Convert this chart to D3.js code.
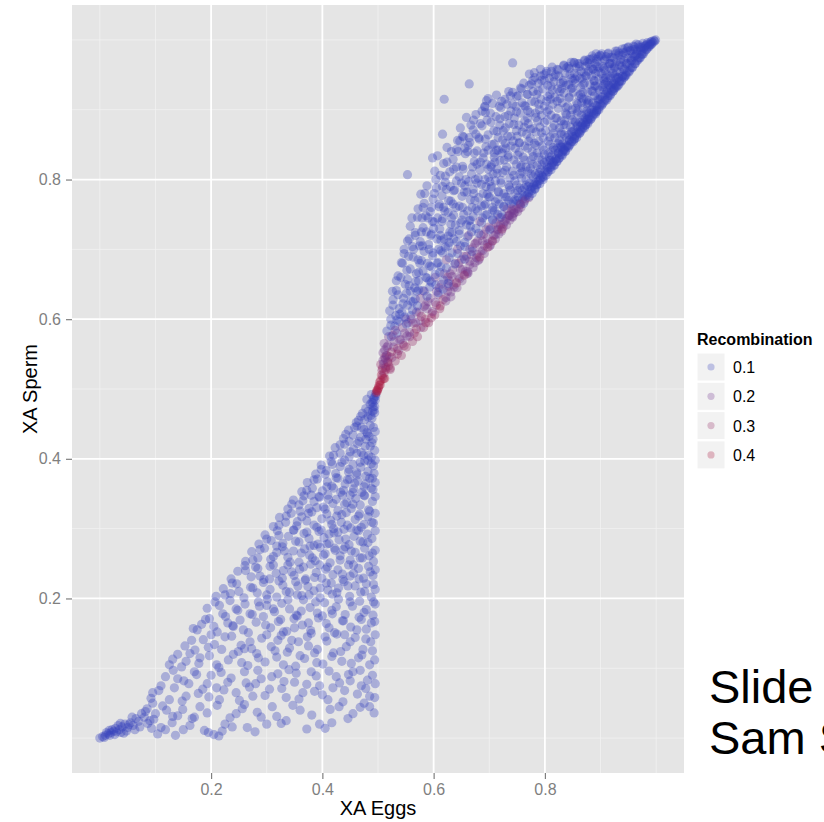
<!DOCTYPE html>
<html>
<head>
<meta charset="utf-8">
<script src="https://cdn.jsdelivr.net/npm/d3@7"></script>
<style>
  body { margin: 0; background: #fff; }
  svg { display: block; font-family: "Liberation Sans", Arial, sans-serif; }
</style>
</head>
<body>
<div id="chart"></div>
<script>
// ── Data ──
// lower wedge (x < 0.5): [xa eggs, xa sperm]; all of it sits at the low recombination end
const lowerRecombination = 0.1;
const lowerWedge = [
  [0.000,0.000],[0.005,0.002],[0.010,0.004],[0.008,0.001],[0.015,0.006],[0.020,0.008],[0.018,0.004],[0.025,0.010],
  [0.030,0.009],[0.028,0.014],[0.035,0.012],[0.040,0.016],[0.038,0.008],[0.045,0.020],[0.050,0.015],[0.055,0.022],
  [0.060,0.018],[0.065,0.028],[0.070,0.024],[0.075,0.035],[0.080,0.030],[0.012,0.008],[0.022,0.012],[0.033,0.018],
  [0.048,0.010],[0.058,0.030],[0.085,0.042],[0.090,0.025],[0.095,0.050],[0.100,0.035],[0.110,0.015],[0.130,0.022],
  [0.150,0.012],[0.170,0.030],[0.195,0.008],[0.205,0.005],[0.225,0.020],[0.245,0.035],[0.265,0.015],[0.290,0.030],
  [0.310,0.045],[0.335,0.025],[0.360,0.040],[0.395,0.020],[0.405,0.014],[0.430,0.045],[0.455,0.035],[0.475,0.050],
  [0.485,0.045],[0.120,0.040],[0.180,0.045],[0.260,0.048],[0.300,0.020],[0.220,0.010],[0.140,0.032],
  [0.095,0.065],[0.110,0.075],[0.125,0.055],[0.140,0.085],[0.155,0.060],[0.170,0.095],[0.185,0.070],[0.200,0.090],
  [0.215,0.055],[0.230,0.080],[0.245,0.065],[0.260,0.095],[0.275,0.060],[0.290,0.085],[0.305,0.070],[0.320,0.092],
  [0.335,0.058],[0.350,0.080],[0.365,0.065],[0.380,0.095],[0.395,0.075],[0.410,0.055],[0.425,0.088],[0.440,0.068],
  [0.455,0.095],[0.470,0.075],[0.485,0.060],[0.490,0.090],[0.160,0.078],[0.210,0.072],[0.280,0.078],[0.340,0.098],
  [0.400,0.062],[0.450,0.082],
  [0.125,0.105],[0.140,0.120],[0.155,0.110],[0.165,0.140],[0.180,0.115],[0.195,0.130],[0.210,0.105],[0.225,0.145],
  [0.240,0.120],[0.255,0.108],[0.270,0.138],[0.285,0.115],[0.300,0.148],[0.315,0.125],[0.330,0.105],[0.345,0.140],
  [0.360,0.118],[0.375,0.132],[0.390,0.108],[0.405,0.145],[0.420,0.122],[0.435,0.110],[0.450,0.138],[0.465,0.115],
  [0.478,0.142],[0.490,0.125],[0.200,0.148],[0.260,0.128],[0.320,0.140],[0.380,0.150],[0.440,0.148],[0.485,0.105],
  [0.175,0.155],[0.190,0.170],[0.205,0.160],[0.215,0.190],[0.230,0.165],[0.245,0.185],[0.258,0.155],[0.270,0.178],
  [0.285,0.195],[0.298,0.162],[0.312,0.185],[0.325,0.170],[0.338,0.198],[0.350,0.158],[0.362,0.182],[0.375,0.165],
  [0.388,0.195],[0.400,0.175],[0.412,0.158],[0.425,0.188],[0.438,0.168],[0.450,0.195],[0.462,0.155],[0.475,0.180],
  [0.488,0.165],[0.492,0.195],[0.240,0.160],[0.300,0.190],[0.355,0.175],[0.418,0.178],[0.470,0.170],[0.330,0.152],
  [0.225,0.205],[0.238,0.222],[0.250,0.210],[0.262,0.240],[0.275,0.215],[0.288,0.232],[0.300,0.205],[0.312,0.248],
  [0.322,0.225],[0.335,0.210],[0.345,0.238],[0.356,0.218],[0.366,0.245],[0.376,0.205],[0.386,0.230],[0.396,0.215],
  [0.406,0.242],[0.416,0.222],[0.426,0.208],[0.436,0.235],[0.446,0.218],[0.456,0.248],[0.466,0.228],[0.476,0.210],
  [0.486,0.238],[0.492,0.220],[0.280,0.245],[0.330,0.240],[0.370,0.228],[0.410,0.212],[0.450,0.232],[0.395,0.248],
  [0.355,0.205],[0.305,0.228],
  [0.275,0.255],[0.288,0.270],[0.300,0.285],[0.312,0.260],[0.322,0.290],[0.332,0.268],[0.342,0.252],[0.352,0.282],
  [0.362,0.265],[0.372,0.295],[0.382,0.258],[0.392,0.278],[0.402,0.262],[0.412,0.292],[0.422,0.272],[0.432,0.255],
  [0.442,0.285],[0.452,0.268],[0.462,0.298],[0.472,0.258],[0.482,0.280],[0.490,0.265],[0.318,0.275],[0.348,0.298],
  [0.378,0.275],[0.408,0.278],[0.438,0.270],[0.468,0.282],[0.398,0.298],[0.428,0.295],
  [0.322,0.305],[0.335,0.318],[0.345,0.335],[0.355,0.310],[0.365,0.340],[0.375,0.322],[0.385,0.305],[0.395,0.345],
  [0.405,0.328],[0.415,0.312],[0.425,0.342],[0.435,0.320],[0.445,0.305],[0.455,0.335],[0.465,0.318],[0.475,0.348],
  [0.485,0.325],[0.492,0.308],[0.360,0.325],[0.390,0.330],[0.420,0.300],[0.450,0.348],[0.470,0.302],[0.440,0.335],
  [0.410,0.348],[0.380,0.348],
  [0.372,0.355],[0.385,0.370],[0.398,0.385],[0.408,0.360],[0.418,0.392],[0.428,0.372],[0.438,0.355],[0.448,0.385],
  [0.458,0.365],[0.468,0.395],[0.478,0.375],[0.488,0.358],[0.492,0.390],[0.405,0.378],[0.435,0.395],[0.455,0.352],
  [0.475,0.360],[0.445,0.370],[0.420,0.358],[0.482,0.398],[0.462,0.380],[0.490,0.372],
  [0.420,0.405],[0.432,0.420],[0.442,0.435],[0.450,0.410],[0.458,0.445],[0.466,0.425],[0.474,0.405],[0.480,0.438],
  [0.486,0.418],[0.492,0.445],[0.462,0.408],[0.478,0.428],[0.448,0.425],[0.470,0.445],[0.488,0.402],[0.484,0.432],
  // second pass, scattered
  [0.104,0.006],[0.118,0.012],[0.136,0.004],[0.162,0.018],[0.188,0.011],[0.214,0.003],[0.238,0.016],[0.279,0.009],
  [0.326,0.021],[0.372,0.013],[0.417,0.022],[0.063,0.012],[0.072,0.016],[0.043,0.007],[0.052,0.019],[0.086,0.021],
  [0.093,0.014],[0.017,0.011],[0.027,0.005],[0.037,0.021],
  [0.082,0.038],[0.097,0.027],[0.113,0.046],[0.131,0.031],[0.149,0.041],[0.166,0.028],[0.193,0.036],[0.211,0.047],
  [0.234,0.029],[0.256,0.042],[0.283,0.037],[0.318,0.031],[0.347,0.047],[0.381,0.033],[0.414,0.041],[0.446,0.028],
  [0.468,0.044],[0.493,0.036],
  [0.092,0.057],[0.106,0.068],[0.134,0.072],[0.148,0.053],[0.177,0.064],[0.196,0.059],[0.223,0.069],[0.251,0.054],
  [0.269,0.073],[0.297,0.061],[0.327,0.071],[0.358,0.056],[0.386,0.067],[0.419,0.072],[0.437,0.052],[0.463,0.063],
  [0.478,0.071],[0.494,0.058],
  [0.118,0.088],[0.132,0.097],[0.151,0.082],[0.174,0.091],[0.193,0.078],[0.218,0.094],[0.236,0.086],[0.263,0.079],
  [0.284,0.097],[0.309,0.088],[0.331,0.081],[0.353,0.093],[0.372,0.077],[0.389,0.089],[0.412,0.096],[0.431,0.079],
  [0.447,0.091],[0.468,0.097],[0.481,0.083],[0.495,0.078],
  [0.131,0.113],[0.147,0.102],[0.162,0.121],[0.178,0.107],[0.197,0.118],[0.214,0.101],[0.231,0.112],[0.249,0.124],
  [0.266,0.104],[0.282,0.121],[0.297,0.109],[0.318,0.116],[0.337,0.123],[0.352,0.103],[0.368,0.114],[0.386,0.122],
  [0.401,0.106],[0.417,0.117],[0.433,0.124],[0.452,0.107],[0.471,0.119],[0.494,0.112],
  [0.153,0.132],[0.171,0.126],[0.186,0.141],[0.206,0.134],[0.219,0.127],[0.237,0.146],[0.254,0.133],[0.273,0.128],
  [0.291,0.143],[0.308,0.131],[0.326,0.147],[0.341,0.129],[0.357,0.138],[0.373,0.145],[0.391,0.127],[0.408,0.139],
  [0.426,0.149],[0.443,0.131],[0.459,0.144],[0.473,0.127],[0.487,0.138],[0.495,0.148],
  [0.168,0.157],[0.183,0.163],[0.197,0.171],[0.211,0.152],[0.226,0.174],[0.239,0.161],[0.252,0.169],[0.267,0.151],
  [0.281,0.166],[0.294,0.174],[0.307,0.158],[0.321,0.167],[0.336,0.153],[0.349,0.171],[0.364,0.162],[0.379,0.154],
  [0.393,0.172],[0.407,0.164],[0.422,0.151],[0.436,0.168],[0.451,0.159],[0.466,0.173],[0.479,0.156],[0.494,0.167],
  [0.193,0.186],[0.207,0.195],[0.221,0.178],[0.234,0.197],[0.248,0.183],[0.261,0.192],[0.274,0.177],[0.287,0.189],
  [0.301,0.199],[0.314,0.181],[0.327,0.193],[0.341,0.185],[0.353,0.176],[0.366,0.198],[0.378,0.187],[0.391,0.179],
  [0.404,0.194],[0.417,0.183],[0.429,0.199],[0.441,0.177],[0.454,0.189],[0.467,0.196],[0.479,0.184],[0.491,0.176],
  [0.495,0.192],
  [0.209,0.203],[0.222,0.214],[0.235,0.207],[0.246,0.221],[0.259,0.201],[0.271,0.216],[0.283,0.208],[0.294,0.223],
  [0.306,0.213],[0.318,0.202],[0.329,0.219],[0.341,0.209],[0.352,0.224],[0.363,0.204],[0.374,0.217],[0.385,0.211],
  [0.396,0.201],[0.407,0.222],[0.418,0.206],[0.429,0.215],[0.439,0.224],[0.449,0.203],[0.459,0.218],[0.469,0.209],
  [0.479,0.221],[0.488,0.202],[0.495,0.213],
  [0.236,0.228],[0.248,0.239],[0.261,0.247],[0.272,0.231],[0.284,0.243],[0.295,0.227],[0.306,0.246],[0.317,0.236],
  [0.328,0.229],[0.338,0.248],[0.349,0.233],[0.359,0.242],[0.369,0.226],[0.379,0.249],[0.389,0.237],[0.399,0.229],
  [0.409,0.245],[0.419,0.234],[0.428,0.241],[0.437,0.227],[0.447,0.248],[0.456,0.236],[0.465,0.243],[0.474,0.229],
  [0.483,0.246],[0.491,0.233],[0.495,0.241],
  [0.262,0.253],[0.273,0.267],[0.284,0.258],[0.296,0.272],[0.307,0.256],[0.318,0.266],[0.328,0.274],[0.338,0.259],
  [0.348,0.268],[0.358,0.252],[0.368,0.271],[0.377,0.262],[0.387,0.254],[0.396,0.273],[0.405,0.264],[0.414,0.251],
  [0.423,0.269],[0.432,0.261],[0.441,0.274],[0.450,0.255],[0.459,0.266],[0.468,0.258],[0.476,0.272],[0.484,0.261],
  [0.492,0.253],[0.495,0.269],
  [0.286,0.278],[0.297,0.291],[0.308,0.283],[0.319,0.297],[0.329,0.279],[0.339,0.289],[0.349,0.298],[0.358,0.281],
  [0.367,0.293],[0.376,0.286],[0.385,0.276],[0.394,0.296],[0.403,0.287],[0.412,0.279],[0.421,0.294],[0.430,0.284],
  [0.439,0.299],[0.448,0.277],[0.457,0.289],[0.465,0.297],[0.473,0.281],[0.481,0.292],[0.489,0.286],[0.495,0.297],
  [0.312,0.303],[0.323,0.316],[0.334,0.309],[0.344,0.322],[0.354,0.304],[0.363,0.317],[0.372,0.311],[0.381,0.324],
  [0.390,0.302],[0.399,0.314],[0.408,0.321],[0.417,0.306],[0.426,0.318],[0.434,0.309],[0.443,0.323],[0.451,0.301],
  [0.459,0.313],[0.467,0.321],[0.475,0.306],[0.482,0.317],[0.489,0.309],[0.495,0.322],
  [0.338,0.328],[0.348,0.341],[0.358,0.334],[0.367,0.347],[0.376,0.329],[0.385,0.339],[0.394,0.346],[0.402,0.331],
  [0.411,0.342],[0.419,0.336],[0.428,0.326],[0.436,0.348],[0.444,0.337],[0.452,0.329],[0.460,0.343],[0.468,0.334],
  [0.476,0.347],[0.483,0.327],[0.490,0.339],[0.495,0.346],
  [0.363,0.353],[0.373,0.366],[0.382,0.358],[0.391,0.371],[0.400,0.354],[0.409,0.367],[0.417,0.361],[0.425,0.373],
  [0.433,0.352],[0.441,0.364],[0.449,0.371],[0.456,0.357],[0.464,0.368],[0.471,0.352],[0.478,0.364],[0.485,0.372],
  [0.491,0.356],[0.495,0.366],
  [0.388,0.378],[0.398,0.391],[0.407,0.383],[0.416,0.396],[0.424,0.379],[0.432,0.389],[0.440,0.398],[0.447,0.381],
  [0.455,0.392],[0.462,0.377],[0.469,0.388],[0.476,0.397],[0.482,0.382],[0.488,0.393],[0.493,0.379],[0.495,0.398],
  [0.413,0.404],[0.423,0.416],[0.432,0.408],[0.440,0.421],[0.448,0.403],[0.456,0.414],[0.463,0.422],[0.470,0.409],
  [0.477,0.418],[0.483,0.405],[0.489,0.423],[0.494,0.412],
  [0.438,0.429],[0.447,0.441],[0.455,0.434],[0.462,0.447],[0.469,0.431],[0.475,0.442],[0.481,0.436],[0.486,0.448],
  [0.491,0.428],[0.495,0.439],
  [0.461,0.452],[0.469,0.461],[0.476,0.456],[0.482,0.468],[0.487,0.462],[0.491,0.474],[0.494,0.466],[0.489,0.481],
  [0.493,0.488],[0.496,0.493]
];

// the narrow neck round (0.5, 0.5): [xa eggs, xa sperm, recombination]
const neckPoints = [
  [0.465,0.455,0.1],[0.472,0.465,0.1],[0.478,0.472,0.1],[0.482,0.460,0.1],[0.486,0.478,0.1],[0.490,0.468,0.1],
  [0.492,0.485,0.1],[0.494,0.475,0.1],[0.496,0.490,0.1],[0.480,0.485,0.1],[0.488,0.492,0.1],[0.491,0.480,0.1],
  [0.495,0.484,0.1],[0.493,0.470,0.1],[0.489,0.458,0.1],
  [0.497,0.495,0.4],[0.498,0.498,0.4],[0.500,0.500,0.4],[0.501,0.502,0.4],[0.502,0.505,0.4],[0.499,0.497,0.4]
];

// upper wedge (x > 0.5), bounded below by the diagonal: [xa eggs, xa sperm, recombination]
const upperWedge = [
  [0.503,0.510,0.4],[0.506,0.520,0.4],[0.508,0.530,0.3],[0.510,0.515,0.4],[0.512,0.545,0.3],[0.514,0.528,0.4],
  [0.516,0.560,0.2],[0.518,0.538,0.3],[0.505,0.535,0.3],[0.511,0.565,0.2],[0.519,0.575,0.2],[0.515,0.548,0.3],
  [0.509,0.552,0.2],
  [0.522,0.530,0.3],[0.525,0.545,0.2],[0.528,0.560,0.2],[0.531,0.540,0.3],[0.534,0.580,0.1],[0.537,0.555,0.2],
  [0.523,0.600,0.1],[0.527,0.620,0.1],[0.532,0.605,0.1],[0.536,0.635,0.1],[0.539,0.570,0.2],[0.524,0.575,0.1],
  [0.530,0.590,0.1],[0.535,0.550,0.3],[0.538,0.615,0.1],[0.526,0.640,0.1],[0.533,0.655,0.1],
  [0.542,0.548,0.3],[0.545,0.565,0.2],[0.548,0.580,0.2],[0.551,0.560,0.3],[0.554,0.595,0.2],[0.557,0.575,0.2],
  [0.543,0.610,0.1],[0.546,0.630,0.1],[0.549,0.650,0.1],[0.552,0.670,0.1],[0.555,0.690,0.1],[0.558,0.640,0.1],
  [0.544,0.680,0.1],[0.547,0.700,0.1],[0.553,0.620,0.1],[0.556,0.715,0.1],[0.559,0.605,0.1],[0.541,0.660,0.1],
  [0.550,0.600,0.2],[0.553,0.807,0.1],
  [0.562,0.568,0.3],[0.565,0.580,0.3],[0.568,0.595,0.2],[0.571,0.575,0.3],[0.574,0.610,0.2],[0.577,0.588,0.2],
  [0.563,0.625,0.1],[0.566,0.645,0.1],[0.569,0.665,0.1],[0.572,0.685,0.1],[0.575,0.705,0.1],[0.578,0.725,0.1],
  [0.561,0.745,0.1],[0.564,0.700,0.1],[0.567,0.720,0.1],[0.570,0.640,0.1],[0.573,0.655,0.1],[0.576,0.630,0.2],
  [0.579,0.745,0.1],[0.560,0.600,0.2],[0.569,0.610,0.2],[0.575,0.680,0.1],
  [0.582,0.588,0.3],[0.585,0.600,0.3],[0.588,0.615,0.2],[0.591,0.595,0.3],[0.594,0.630,0.2],[0.597,0.608,0.3],
  [0.583,0.640,0.2],[0.586,0.660,0.1],[0.589,0.680,0.1],[0.592,0.700,0.1],[0.595,0.720,0.1],[0.598,0.740,0.1],
  [0.581,0.760,0.1],[0.584,0.780,0.1],[0.587,0.725,0.1],[0.590,0.745,0.1],[0.593,0.655,0.1],[0.596,0.675,0.1],
  [0.599,0.695,0.1],[0.580,0.705,0.1],[0.590,0.625,0.2],[0.596,0.760,0.1],[0.585,0.620,0.2],[0.598,0.831,0.1],
  [0.602,0.606,0.3],[0.605,0.620,0.3],[0.608,0.635,0.2],[0.611,0.615,0.3],[0.614,0.650,0.2],[0.617,0.628,0.3],
  [0.603,0.660,0.2],[0.606,0.680,0.1],[0.609,0.700,0.1],[0.612,0.720,0.1],[0.615,0.740,0.1],[0.618,0.760,0.1],
  [0.601,0.780,0.1],[0.604,0.800,0.1],[0.607,0.745,0.1],[0.610,0.765,0.1],[0.613,0.675,0.1],[0.616,0.695,0.1],
  [0.619,0.715,0.1],[0.600,0.730,0.1],[0.610,0.645,0.2],[0.616,0.790,0.1],[0.605,0.640,0.2],[0.619,0.665,0.2],
  [0.616,0.865,0.1],[0.619,0.915,0.1],
  [0.622,0.626,0.2],[0.625,0.640,0.2],[0.628,0.655,0.2],[0.631,0.632,0.2],[0.634,0.670,0.2],[0.637,0.646,0.2],
  [0.623,0.685,0.2],[0.626,0.705,0.1],[0.629,0.725,0.1],[0.632,0.745,0.1],[0.635,0.765,0.1],[0.638,0.785,0.1],
  [0.621,0.805,0.1],[0.624,0.825,0.1],[0.627,0.770,0.1],[0.630,0.790,0.1],[0.633,0.695,0.1],[0.636,0.715,0.1],
  [0.639,0.735,0.1],[0.620,0.755,0.1],[0.630,0.665,0.2],[0.636,0.815,0.1],[0.625,0.660,0.2],[0.639,0.680,0.2],
  [0.632,0.840,0.1],[0.628,0.710,0.1],
  [0.642,0.645,0.2],[0.645,0.660,0.2],[0.648,0.672,0.2],[0.651,0.655,0.2],[0.654,0.690,0.2],[0.657,0.668,0.2],
  [0.643,0.700,0.2],[0.646,0.722,0.1],[0.649,0.738,0.1],[0.652,0.760,0.1],[0.655,0.782,0.1],[0.658,0.800,0.1],
  [0.641,0.818,0.1],[0.644,0.840,0.1],[0.647,0.855,0.1],[0.650,0.795,0.1],[0.653,0.815,0.1],[0.656,0.710,0.1],
  [0.659,0.735,0.1],[0.640,0.760,0.1],[0.650,0.685,0.2],[0.656,0.845,0.1],[0.645,0.680,0.2],[0.659,0.690,0.2],
  [0.652,0.862,0.1],[0.648,0.705,0.1],[0.654,0.750,0.1],[0.660,0.665,0.2],
  [0.662,0.666,0.2],[0.665,0.678,0.2],[0.668,0.692,0.2],[0.671,0.674,0.2],[0.674,0.708,0.2],[0.677,0.688,0.2],
  [0.663,0.720,0.2],[0.666,0.742,0.1],[0.669,0.760,0.1],[0.672,0.780,0.1],[0.675,0.800,0.1],[0.678,0.822,0.1],
  [0.661,0.840,0.1],[0.664,0.860,0.1],[0.667,0.878,0.1],[0.670,0.818,0.1],[0.673,0.838,0.1],[0.676,0.730,0.1],
  [0.679,0.755,0.1],[0.660,0.782,0.1],[0.670,0.702,0.2],[0.676,0.865,0.1],[0.665,0.700,0.2],[0.679,0.712,0.2],
  [0.672,0.885,0.1],[0.668,0.725,0.1],[0.674,0.770,0.1],[0.680,0.684,0.2],[0.664,0.937,0.1],[0.678,0.795,0.1],
  [0.682,0.686,0.2],[0.685,0.698,0.2],[0.688,0.712,0.2],[0.691,0.694,0.2],[0.694,0.728,0.2],[0.697,0.708,0.2],
  [0.683,0.740,0.2],[0.686,0.762,0.1],[0.689,0.780,0.1],[0.692,0.800,0.1],[0.695,0.822,0.1],[0.698,0.842,0.1],
  [0.681,0.860,0.1],[0.684,0.880,0.1],[0.687,0.898,0.1],[0.690,0.838,0.1],[0.693,0.858,0.1],[0.696,0.750,0.1],
  [0.699,0.775,0.1],[0.680,0.802,0.1],[0.690,0.722,0.2],[0.696,0.885,0.1],[0.685,0.720,0.2],[0.699,0.732,0.2],
  [0.692,0.905,0.1],[0.688,0.745,0.1],[0.694,0.790,0.1],[0.700,0.704,0.2],[0.695,0.913,0.1],[0.698,0.815,0.1],
  [0.684,0.825,0.1],[0.693,0.765,0.1],
  [0.702,0.706,0.2],[0.705,0.712,0.2],[0.708,0.720,0.2],[0.711,0.715,0.2],[0.714,0.728,0.2],[0.717,0.722,0.2],
  [0.703,0.730,0.2],[0.706,0.742,0.1],[0.709,0.755,0.1],[0.712,0.738,0.2],[0.715,0.750,0.1],[0.718,0.765,0.1],
  [0.701,0.775,0.1],[0.704,0.790,0.1],[0.707,0.808,0.1],[0.710,0.825,0.1],[0.713,0.842,0.1],[0.716,0.860,0.1],
  [0.719,0.878,0.1],[0.702,0.895,0.1],[0.705,0.850,0.1],[0.708,0.870,0.1],[0.711,0.798,0.1],[0.714,0.815,0.1],
  [0.717,0.782,0.1],[0.720,0.735,0.2],[0.706,0.760,0.1],[0.712,0.890,0.1],[0.718,0.905,0.1],[0.709,0.832,0.1],
  [0.715,0.772,0.1],[0.703,0.818,0.1],[0.719,0.745,0.2],[0.716,0.728,0.2],
  [0.722,0.726,0.2],[0.725,0.732,0.2],[0.728,0.740,0.2],[0.731,0.735,0.2],[0.734,0.748,0.2],[0.737,0.742,0.2],
  [0.723,0.750,0.1],[0.726,0.762,0.1],[0.729,0.775,0.1],[0.732,0.758,0.2],[0.735,0.770,0.1],[0.738,0.785,0.1],
  [0.721,0.795,0.1],[0.724,0.810,0.1],[0.727,0.828,0.1],[0.730,0.845,0.1],[0.733,0.862,0.1],[0.736,0.880,0.1],
  [0.739,0.898,0.1],[0.722,0.912,0.1],[0.725,0.870,0.1],[0.728,0.890,0.1],[0.731,0.818,0.1],[0.734,0.835,0.1],
  [0.737,0.802,0.1],[0.740,0.755,0.2],[0.726,0.780,0.1],[0.732,0.908,0.1],[0.738,0.920,0.1],[0.729,0.852,0.1],
  [0.735,0.792,0.1],[0.723,0.838,0.1],[0.739,0.765,0.1],[0.736,0.748,0.2],[0.742,0.967,0.1],
  [0.742,0.746,0.2],[0.745,0.752,0.2],[0.748,0.758,0.2],[0.751,0.754,0.2],[0.754,0.766,0.1],[0.757,0.760,0.2],
  [0.743,0.768,0.1],[0.746,0.780,0.1],[0.749,0.792,0.1],[0.752,0.775,0.1],[0.755,0.788,0.1],[0.758,0.802,0.1],
  [0.741,0.812,0.1],[0.744,0.828,0.1],[0.747,0.845,0.1],[0.750,0.862,0.1],[0.753,0.878,0.1],[0.756,0.895,0.1],
  [0.759,0.910,0.1],[0.742,0.925,0.1],[0.745,0.888,0.1],[0.748,0.905,0.1],[0.751,0.835,0.1],[0.754,0.852,0.1],
  [0.757,0.820,0.1],[0.760,0.772,0.1],[0.746,0.798,0.1],[0.752,0.920,0.1],[0.758,0.930,0.1],[0.749,0.870,0.1],
  [0.755,0.808,0.1],[0.743,0.855,0.1],[0.759,0.784,0.1],[0.756,0.764,0.2],[0.750,0.770,0.1],[0.744,0.756,0.2],
  [0.762,0.766,0.1],[0.765,0.772,0.2],[0.768,0.778,0.1],[0.771,0.774,0.2],[0.774,0.786,0.1],[0.777,0.780,0.1],
  [0.763,0.788,0.1],[0.766,0.800,0.1],[0.769,0.812,0.1],[0.772,0.795,0.1],[0.775,0.808,0.1],[0.778,0.822,0.1],
  [0.761,0.832,0.1],[0.764,0.848,0.1],[0.767,0.865,0.1],[0.770,0.880,0.1],[0.773,0.896,0.1],[0.776,0.912,0.1],
  [0.779,0.926,0.1],[0.762,0.938,0.1],[0.765,0.905,0.1],[0.768,0.922,0.1],[0.771,0.855,0.1],[0.774,0.872,0.1],
  [0.777,0.840,0.1],[0.780,0.792,0.1],[0.766,0.818,0.1],[0.772,0.935,0.1],[0.778,0.942,0.1],[0.769,0.888,0.1],
  [0.775,0.828,0.1],[0.763,0.875,0.1],[0.779,0.804,0.1],[0.776,0.784,0.1],[0.770,0.790,0.1],[0.764,0.776,0.1],
  [0.772,0.951,0.1],
  [0.782,0.786,0.1],[0.785,0.792,0.1],[0.788,0.798,0.1],[0.791,0.794,0.1],[0.794,0.806,0.1],[0.797,0.800,0.1],
  [0.783,0.808,0.1],[0.786,0.820,0.1],[0.789,0.832,0.1],[0.792,0.815,0.1],[0.795,0.828,0.1],[0.798,0.842,0.1],
  [0.781,0.852,0.1],[0.784,0.868,0.1],[0.787,0.884,0.1],[0.790,0.900,0.1],[0.793,0.915,0.1],[0.796,0.930,0.1],
  [0.799,0.942,0.1],[0.782,0.946,0.1],[0.785,0.922,0.1],[0.788,0.938,0.1],[0.791,0.875,0.1],[0.794,0.892,0.1],
  [0.797,0.860,0.1],[0.800,0.812,0.1],[0.786,0.838,0.1],[0.792,0.948,0.1],[0.798,0.950,0.1],[0.789,0.908,0.1],
  [0.795,0.848,0.1],[0.783,0.895,0.1],[0.799,0.824,0.1],[0.796,0.804,0.1],[0.790,0.810,0.1],[0.784,0.796,0.1],
  [0.792,0.802,0.1],
  [0.802,0.806,0.1],[0.805,0.811,0.1],[0.808,0.817,0.1],[0.811,0.814,0.1],[0.814,0.824,0.1],[0.817,0.820,0.1],
  [0.803,0.826,0.1],[0.806,0.838,0.1],[0.809,0.850,0.1],[0.812,0.834,0.1],[0.815,0.846,0.1],[0.818,0.860,0.1],
  [0.801,0.870,0.1],[0.804,0.885,0.1],[0.807,0.900,0.1],[0.810,0.915,0.1],[0.813,0.928,0.1],[0.816,0.940,0.1],
  [0.819,0.950,0.1],[0.802,0.952,0.1],[0.805,0.935,0.1],[0.808,0.945,0.1],[0.811,0.892,0.1],[0.814,0.908,0.1],
  [0.817,0.878,0.1],[0.820,0.830,0.1],[0.806,0.855,0.1],[0.812,0.955,0.1],[0.818,0.918,0.1],[0.809,0.922,0.1],
  [0.815,0.866,0.1],[0.803,0.912,0.1],[0.819,0.842,0.1],[0.816,0.826,0.1],[0.810,0.828,0.1],[0.804,0.818,0.1],
  [0.812,0.821,0.1],[0.808,0.832,0.1],
  [0.822,0.826,0.1],[0.825,0.830,0.1],[0.828,0.836,0.1],[0.831,0.834,0.1],[0.834,0.842,0.1],[0.837,0.840,0.1],
  [0.823,0.845,0.1],[0.826,0.856,0.1],[0.829,0.868,0.1],[0.832,0.852,0.1],[0.835,0.864,0.1],[0.838,0.878,0.1],
  [0.821,0.888,0.1],[0.824,0.902,0.1],[0.827,0.916,0.1],[0.830,0.930,0.1],[0.833,0.942,0.1],[0.836,0.952,0.1],
  [0.839,0.960,0.1],[0.822,0.958,0.1],[0.825,0.948,0.1],[0.828,0.938,0.1],[0.831,0.910,0.1],[0.834,0.924,0.1],
  [0.837,0.895,0.1],[0.840,0.848,0.1],[0.826,0.874,0.1],[0.834,0.963,0.1],[0.838,0.935,0.1],[0.829,0.884,0.1],
  [0.835,0.884,0.1],[0.823,0.930,0.1],[0.839,0.860,0.1],[0.836,0.846,0.1],[0.830,0.846,0.1],[0.824,0.838,0.1],
  [0.832,0.840,0.1],[0.828,0.850,0.1],[0.847,0.968,0.1],
  [0.842,0.846,0.1],[0.845,0.850,0.1],[0.848,0.855,0.1],[0.851,0.854,0.1],[0.854,0.862,0.1],[0.857,0.860,0.1],
  [0.843,0.864,0.1],[0.846,0.875,0.1],[0.849,0.886,0.1],[0.852,0.870,0.1],[0.855,0.882,0.1],[0.858,0.895,0.1],
  [0.841,0.905,0.1],[0.844,0.918,0.1],[0.847,0.930,0.1],[0.850,0.942,0.1],[0.853,0.952,0.1],[0.856,0.960,0.1],
  [0.859,0.966,0.1],[0.842,0.962,0.1],[0.845,0.950,0.1],[0.848,0.945,0.1],[0.851,0.925,0.1],[0.854,0.938,0.1],
  [0.857,0.910,0.1],[0.860,0.868,0.1],[0.846,0.892,0.1],[0.852,0.968,0.1],[0.858,0.948,0.1],[0.849,0.900,0.1],
  [0.855,0.902,0.1],[0.843,0.936,0.1],[0.859,0.878,0.1],[0.856,0.866,0.1],[0.850,0.862,0.1],[0.844,0.856,0.1],
  [0.853,0.858,0.1],[0.848,0.868,0.1],
  [0.862,0.866,0.1],[0.865,0.870,0.1],[0.868,0.875,0.1],[0.871,0.874,0.1],[0.874,0.882,0.1],[0.877,0.880,0.1],
  [0.863,0.882,0.1],[0.866,0.892,0.1],[0.869,0.902,0.1],[0.872,0.888,0.1],[0.875,0.898,0.1],[0.878,0.910,0.1],
  [0.861,0.920,0.1],[0.864,0.932,0.1],[0.867,0.944,0.1],[0.870,0.954,0.1],[0.873,0.962,0.1],[0.876,0.968,0.1],
  [0.879,0.972,0.1],[0.862,0.966,0.1],[0.865,0.955,0.1],[0.868,0.925,0.1],[0.871,0.938,0.1],[0.874,0.948,0.1],
  [0.877,0.925,0.1],[0.880,0.888,0.1],[0.866,0.910,0.1],[0.872,0.970,0.1],[0.878,0.955,0.1],[0.869,0.915,0.1],
  [0.875,0.914,0.1],[0.863,0.945,0.1],[0.879,0.895,0.1],[0.876,0.886,0.1],[0.870,0.882,0.1],[0.864,0.876,0.1],
  [0.873,0.878,0.1],[0.885,0.977,0.1],
  [0.882,0.886,0.1],[0.885,0.890,0.1],[0.888,0.895,0.1],[0.891,0.894,0.1],[0.894,0.900,0.1],[0.897,0.900,0.1],
  [0.883,0.900,0.1],[0.886,0.910,0.1],[0.889,0.920,0.1],[0.892,0.906,0.1],[0.895,0.916,0.1],[0.898,0.928,0.1],
  [0.881,0.936,0.1],[0.884,0.948,0.1],[0.887,0.958,0.1],[0.890,0.966,0.1],[0.893,0.972,0.1],[0.896,0.976,0.1],
  [0.899,0.978,0.1],[0.882,0.972,0.1],[0.888,0.942,0.1],[0.891,0.952,0.1],[0.894,0.962,0.1],[0.897,0.944,0.1],
  [0.900,0.908,0.1],[0.886,0.926,0.1],[0.892,0.980,0.1],[0.898,0.960,0.1],[0.889,0.934,0.1],[0.895,0.932,0.1],
  [0.883,0.960,0.1],[0.899,0.915,0.1],[0.893,0.898,0.1],
  [0.902,0.906,0.1],[0.905,0.910,0.1],[0.908,0.915,0.1],[0.911,0.914,0.1],[0.914,0.920,0.1],[0.917,0.920,0.1],
  [0.903,0.918,0.1],[0.906,0.928,0.1],[0.909,0.938,0.1],[0.912,0.926,0.1],[0.915,0.935,0.1],[0.918,0.945,0.1],
  [0.901,0.952,0.1],[0.904,0.962,0.1],[0.907,0.970,0.1],[0.910,0.976,0.1],[0.913,0.980,0.1],[0.916,0.966,0.1],
  [0.919,0.958,0.1],[0.902,0.980,0.1],[0.905,0.945,0.1],[0.908,0.956,0.1],[0.911,0.950,0.1],[0.914,0.962,0.1],
  [0.917,0.975,0.1],[0.920,0.928,0.1],[0.906,0.936,0.1],[0.912,0.940,0.1],[0.918,0.932,0.1],[0.909,0.922,0.1],
  [0.922,0.926,0.1],[0.925,0.930,0.1],[0.928,0.934,0.1],[0.931,0.934,0.1],[0.934,0.940,0.1],[0.937,0.940,0.1],
  [0.923,0.938,0.1],[0.926,0.946,0.1],[0.929,0.955,0.1],[0.932,0.946,0.1],[0.935,0.954,0.1],[0.938,0.962,0.1],
  [0.921,0.966,0.1],[0.924,0.974,0.1],[0.927,0.980,0.1],[0.930,0.984,0.1],[0.933,0.981,0.1],[0.936,0.972,0.1],
  [0.939,0.978,0.1],[0.922,0.952,0.1],[0.925,0.960,0.1],[0.928,0.968,0.1],[0.934,0.964,0.1],[0.940,0.948,0.1],
  [0.926,0.936,0.1],
  [0.942,0.946,0.1],[0.945,0.950,0.1],[0.948,0.954,0.1],[0.951,0.954,0.1],[0.954,0.960,0.1],[0.957,0.960,0.1],
  [0.943,0.958,0.1],[0.946,0.966,0.1],[0.949,0.974,0.1],[0.952,0.966,0.1],[0.955,0.974,0.1],[0.958,0.980,0.1],
  [0.941,0.982,0.1],[0.944,0.988,0.1],[0.947,0.984,0.1],[0.950,0.990,0.1],[0.953,0.985,0.1],[0.956,0.970,0.1],
  [0.959,0.986,0.1],[0.942,0.970,0.1],
  [0.962,0.966,0.1],[0.965,0.970,0.1],[0.968,0.974,0.1],[0.971,0.974,0.1],[0.974,0.980,0.1],[0.977,0.980,0.1],
  [0.963,0.978,0.1],[0.966,0.984,0.1],[0.969,0.990,0.1],[0.972,0.986,0.1],[0.975,0.990,0.1],[0.978,0.988,0.1],
  [0.961,0.990,0.1],[0.964,0.994,0.1],
  [0.982,0.986,0.1],[0.985,0.990,0.1],[0.988,0.992,0.1],[0.991,0.994,0.1],[0.994,0.996,0.1],[0.997,0.998,0.1],
  [0.999,1.000,0.1],[0.984,0.994,0.1],[0.990,0.997,0.1],[0.981,0.992,0.1],
  // second pass, by rows of xa sperm
  [0.505,0.512,0.4],[0.508,0.518,0.3],[0.511,0.523,0.3],[0.507,0.527,0.3],[0.514,0.531,0.3],[0.510,0.536,0.2],
  [0.517,0.539,0.3],[0.513,0.543,0.2],[0.520,0.546,0.3],[0.509,0.541,0.2],[0.516,0.548,0.2],[0.504,0.506,0.4],
  [0.512,0.515,0.4],[0.522,0.528,0.3],[0.519,0.533,0.3],
  [0.512,0.556,0.2],[0.518,0.562,0.2],[0.524,0.553,0.3],[0.529,0.568,0.2],[0.535,0.558,0.3],[0.541,0.571,0.2],
  [0.547,0.562,0.3],[0.552,0.576,0.2],[0.516,0.583,0.1],[0.523,0.591,0.1],[0.531,0.584,0.2],[0.538,0.597,0.1],
  [0.544,0.588,0.2],[0.551,0.593,0.1],[0.557,0.581,0.2],[0.563,0.594,0.2],[0.569,0.586,0.3],[0.576,0.598,0.2],
  [0.527,0.577,0.2],[0.534,0.599,0.1],
  [0.521,0.612,0.1],[0.527,0.628,0.1],[0.533,0.641,0.1],[0.539,0.607,0.1],[0.545,0.622,0.1],[0.551,0.637,0.1],
  [0.556,0.648,0.1],[0.562,0.613,0.1],[0.567,0.629,0.1],[0.573,0.642,0.1],[0.578,0.604,0.3],[0.583,0.618,0.2],
  [0.588,0.633,0.1],[0.593,0.646,0.1],[0.598,0.611,0.2],[0.603,0.624,0.2],[0.608,0.638,0.1],[0.612,0.619,0.3],
  [0.617,0.643,0.1],[0.622,0.631,0.2],[0.627,0.647,0.2],[0.631,0.639,0.2],[0.636,0.649,0.2],[0.596,0.602,0.3],
  [0.586,0.595,0.3],[0.548,0.603,0.1],[0.559,0.626,0.1],[0.571,0.619,0.1],[0.581,0.641,0.1],[0.604,0.649,0.1],
  [0.536,0.662,0.1],[0.542,0.681,0.1],[0.547,0.694,0.1],[0.553,0.657,0.1],[0.558,0.672,0.1],[0.563,0.689,0.1],
  [0.568,0.654,0.1],[0.573,0.667,0.1],[0.578,0.684,0.1],[0.583,0.697,0.1],[0.588,0.659,0.1],[0.593,0.676,0.1],
  [0.598,0.691,0.1],[0.603,0.664,0.1],[0.608,0.681,0.1],[0.613,0.698,0.1],[0.618,0.656,0.1],[0.623,0.673,0.1],
  [0.628,0.688,0.1],[0.633,0.661,0.2],[0.638,0.679,0.1],[0.643,0.694,0.1],[0.647,0.658,0.2],[0.652,0.671,0.2],
  [0.656,0.686,0.1],[0.661,0.668,0.2],[0.665,0.683,0.2],[0.669,0.697,0.1],[0.674,0.681,0.2],[0.678,0.693,0.2],
  [0.683,0.689,0.3],[0.688,0.698,0.2],[0.641,0.652,0.3],[0.655,0.663,0.3],[0.626,0.651,0.1],[0.611,0.667,0.1],
  [0.596,0.653,0.1],[0.581,0.669,0.1],
  [0.553,0.712,0.1],[0.558,0.733,0.1],[0.562,0.704,0.1],[0.567,0.724,0.1],[0.571,0.746,0.1],[0.576,0.711,0.1],
  [0.581,0.731,0.1],[0.586,0.748,0.1],[0.591,0.707,0.1],[0.596,0.722,0.1],[0.601,0.739,0.1],[0.606,0.715,0.1],
  [0.611,0.729,0.1],[0.616,0.744,0.1],[0.621,0.703,0.1],[0.626,0.719,0.1],[0.631,0.736,0.1],[0.636,0.749,0.1],
  [0.641,0.711,0.1],[0.646,0.727,0.1],[0.651,0.742,0.1],[0.656,0.704,0.1],[0.661,0.718,0.1],[0.666,0.733,0.1],
  [0.671,0.747,0.1],[0.676,0.709,0.2],[0.681,0.723,0.1],[0.686,0.738,0.1],[0.691,0.706,0.2],[0.696,0.716,0.2],
  [0.701,0.728,0.1],[0.706,0.743,0.1],[0.711,0.721,0.2],[0.716,0.733,0.2],[0.721,0.746,0.1],[0.726,0.737,0.2],
  [0.731,0.744,0.2],[0.736,0.749,0.2],[0.706,0.712,0.3],[0.697,0.703,0.3],[0.723,0.729,0.3],[0.741,0.747,0.2],
  [0.633,0.724,0.1],[0.664,0.741,0.1],[0.693,0.749,0.1],[0.613,0.713,0.1],
  [0.572,0.758,0.1],[0.577,0.779,0.1],[0.583,0.766,0.1],[0.588,0.791,0.1],[0.594,0.754,0.1],[0.599,0.772,0.1],
  [0.605,0.788,0.1],[0.610,0.761,0.1],[0.615,0.777,0.1],[0.621,0.796,0.1],[0.626,0.753,0.1],[0.631,0.769,0.1],
  [0.636,0.784,0.1],[0.641,0.798,0.1],[0.646,0.762,0.1],[0.651,0.776,0.1],[0.656,0.791,0.1],[0.661,0.755,0.1],
  [0.666,0.771,0.1],[0.671,0.786,0.1],[0.676,0.758,0.1],[0.681,0.774,0.1],[0.686,0.793,0.1],[0.691,0.763,0.1],
  [0.696,0.779,0.1],[0.701,0.797,0.1],[0.706,0.756,0.1],[0.711,0.768,0.1],[0.716,0.783,0.1],[0.721,0.799,0.1],
  [0.726,0.761,0.1],[0.731,0.775,0.1],[0.736,0.789,0.1],[0.741,0.758,0.2],[0.746,0.771,0.1],[0.751,0.784,0.1],
  [0.756,0.765,0.2],[0.761,0.778,0.1],[0.766,0.792,0.1],[0.771,0.781,0.1],[0.776,0.789,0.1],[0.781,0.796,0.1],
  [0.786,0.793,0.1],[0.791,0.799,0.1],[0.753,0.758,0.2],[0.763,0.769,0.2],[0.772,0.776,0.1],[0.782,0.787,0.1],
  [0.744,0.752,0.2],[0.703,0.787,0.1],[0.663,0.797,0.1],[0.623,0.786,0.1],
  [0.602,0.812,0.1],[0.607,0.834,0.1],[0.612,0.806,0.1],[0.618,0.823,0.1],[0.624,0.846,0.1],[0.629,0.811,0.1],
  [0.635,0.829,0.1],[0.641,0.843,0.1],[0.646,0.804,0.1],[0.652,0.819,0.1],[0.657,0.837,0.1],[0.662,0.849,0.1],
  [0.668,0.808,0.1],[0.673,0.826,0.1],[0.678,0.841,0.1],[0.683,0.814,0.1],[0.689,0.831,0.1],[0.694,0.847,0.1],
  [0.699,0.803,0.1],[0.704,0.821,0.1],[0.709,0.838,0.1],[0.714,0.809,0.1],[0.719,0.827,0.1],[0.724,0.844,0.1],
  [0.729,0.813,0.1],[0.734,0.832,0.1],[0.739,0.848,0.1],[0.744,0.806,0.1],[0.749,0.822,0.1],[0.754,0.839,0.1],
  [0.759,0.811,0.1],[0.764,0.828,0.1],[0.769,0.845,0.1],[0.774,0.816,0.1],[0.779,0.833,0.1],[0.784,0.849,0.1],
  [0.789,0.807,0.1],[0.794,0.821,0.1],[0.799,0.836,0.1],[0.804,0.814,0.1],[0.809,0.827,0.1],[0.814,0.842,0.1],
  [0.819,0.829,0.1],[0.824,0.838,0.1],[0.829,0.847,0.1],[0.834,0.843,0.1],[0.839,0.848,0.1],[0.806,0.811,0.1],
  [0.816,0.821,0.1],[0.826,0.831,0.1],[0.836,0.841,0.1],[0.797,0.803,0.1],[0.811,0.818,0.1],[0.821,0.826,0.1],
  [0.831,0.836,0.1],[0.843,0.848,0.1],[0.756,0.817,0.1],[0.716,0.842,0.1],
  [0.643,0.856,0.1],[0.648,0.874,0.1],[0.654,0.861,0.1],[0.659,0.889,0.1],[0.665,0.853,0.1],[0.671,0.871,0.1],
  [0.676,0.893,0.1],[0.682,0.858,0.1],[0.687,0.877,0.1],[0.693,0.896,0.1],[0.698,0.864,0.1],[0.703,0.882,0.1],
  [0.709,0.851,0.1],[0.714,0.869,0.1],[0.719,0.887,0.1],[0.724,0.857,0.1],[0.729,0.874,0.1],[0.734,0.892,0.1],
  [0.739,0.862,0.1],[0.744,0.879,0.1],[0.749,0.897,0.1],[0.754,0.853,0.1],[0.759,0.868,0.1],[0.764,0.884,0.1],
  [0.769,0.899,0.1],[0.774,0.859,0.1],[0.779,0.873,0.1],[0.784,0.889,0.1],[0.789,0.855,0.1],[0.794,0.867,0.1],
  [0.799,0.882,0.1],[0.804,0.897,0.1],[0.809,0.861,0.1],[0.814,0.874,0.1],[0.819,0.888,0.1],[0.824,0.852,0.1],
  [0.829,0.865,0.1],[0.834,0.879,0.1],[0.839,0.893,0.1],[0.844,0.857,0.1],[0.849,0.869,0.1],[0.854,0.883,0.1],
  [0.859,0.898,0.1],[0.864,0.872,0.1],[0.869,0.886,0.1],[0.874,0.894,0.1],[0.879,0.891,0.1],[0.884,0.896,0.1],
  [0.889,0.899,0.1],[0.853,0.858,0.1],[0.858,0.864,0.1],[0.863,0.867,0.1],[0.868,0.873,0.1],[0.873,0.878,0.1],
  [0.878,0.883,0.1],[0.883,0.887,0.1],[0.888,0.893,0.1],[0.893,0.897,0.1],[0.848,0.854,0.1],[0.867,0.879,0.1],
  [0.877,0.886,0.1],[0.858,0.876,0.1],
  [0.692,0.904,0.1],[0.698,0.916,0.1],[0.706,0.909,0.1],[0.713,0.921,0.1],[0.721,0.903,0.1],[0.728,0.915,0.1],
  [0.735,0.926,0.1],[0.742,0.908,0.1],[0.749,0.919,0.1],[0.756,0.931,0.1],[0.763,0.906,0.1],[0.769,0.922,0.1],
  [0.776,0.937,0.1],[0.782,0.911,0.1],[0.788,0.927,0.1],[0.794,0.942,0.1],[0.799,0.905,0.1],[0.805,0.919,0.1],
  [0.811,0.934,0.1],[0.816,0.947,0.1],[0.822,0.912,0.1],[0.827,0.926,0.1],[0.833,0.939,0.1],[0.838,0.903,0.1],
  [0.843,0.917,0.1],[0.849,0.931,0.1],[0.854,0.944,0.1],[0.859,0.908,0.1],[0.864,0.922,0.1],[0.869,0.936,0.1],
  [0.874,0.949,0.1],[0.879,0.913,0.1],[0.884,0.927,0.1],[0.889,0.941,0.1],[0.894,0.906,0.1],[0.899,0.919,0.1],
  [0.904,0.933,0.1],[0.909,0.946,0.1],[0.914,0.924,0.1],[0.919,0.938,0.1],[0.924,0.931,0.1],[0.929,0.944,0.1],
  [0.934,0.941,0.1],[0.939,0.948,0.1],[0.903,0.908,0.1],[0.908,0.913,0.1],[0.913,0.917,0.1],[0.918,0.922,0.1],
  [0.923,0.927,0.1],[0.928,0.932,0.1],[0.933,0.936,0.1],[0.938,0.942,0.1],[0.943,0.947,0.1],[0.946,0.949,0.1],
  [0.898,0.904,0.1],[0.911,0.928,0.1],[0.921,0.936,0.1],[0.931,0.946,0.1],[0.896,0.914,0.1],[0.886,0.903,0.1],
  [0.876,0.908,0.1],[0.866,0.917,0.1],[0.906,0.941,0.1],[0.916,0.949,0.1],[0.926,0.949,0.1],[0.891,0.934,0.1],
  [0.781,0.953,0.1],[0.792,0.958,0.1],[0.803,0.955,0.1],[0.813,0.961,0.1],[0.824,0.957,0.1],[0.834,0.964,0.1],
  [0.844,0.959,0.1],[0.853,0.967,0.1],[0.862,0.962,0.1],[0.871,0.971,0.1],[0.879,0.966,0.1],[0.887,0.974,0.1],
  [0.894,0.969,0.1],[0.901,0.977,0.1],[0.908,0.972,0.1],[0.914,0.981,0.1],[0.921,0.975,0.1],[0.927,0.984,0.1],
  [0.933,0.978,0.1],[0.939,0.987,0.1],[0.944,0.981,0.1],[0.949,0.989,0.1],[0.954,0.984,0.1],[0.959,0.991,0.1],
  [0.963,0.986,0.1],[0.968,0.993,0.1],[0.972,0.989,0.1],[0.976,0.995,0.1],[0.980,0.991,0.1],[0.984,0.996,0.1],
  [0.988,0.994,0.1],[0.992,0.998,0.1],[0.996,0.999,0.1],[0.952,0.956,0.1],[0.957,0.961,0.1],[0.962,0.966,0.1],
  [0.967,0.971,0.1],[0.971,0.975,0.1],[0.975,0.979,0.1],[0.979,0.983,0.1],[0.983,0.987,0.1],[0.987,0.990,0.1],
  [0.991,0.993,0.1],[0.955,0.971,0.1],[0.965,0.979,0.1],[0.973,0.984,0.1],[0.961,0.976,0.1],[0.947,0.966,0.1],
  [0.941,0.958,0.1],[0.936,0.968,0.1],[0.926,0.962,0.1],[0.917,0.966,0.1],[0.906,0.959,0.1],[0.896,0.955,0.1],
  [0.886,0.958,0.1]
];

const xTicks = [0.2, 0.4, 0.6, 0.8];
const yTicks = [0.2, 0.4, 0.6, 0.8];
const minorBreaks = [0.0, 0.1, 0.3, 0.5, 0.7, 0.9, 1.0];
const legendLevels = [0.1, 0.2, 0.3, 0.4];
const slideLines = ["Slide", "Sam S"];

// ── Layout ──
const W = 824, H = 822;
const panel = { left: 72, right: 684, top: 5, bottom: 773 };
const POINT_R = 4.6, POINT_ALPHA = 0.34, KEY_ALPHA = 0.28;

const svg = d3.select("#chart").append("svg")
  .attr("width", W).attr("height", H);

const x = d3.scaleLinear().domain([-0.05, 1.05]).range([panel.left, panel.right]);
const y = d3.scaleLinear().domain([-0.05, 1.05]).range([panel.bottom, panel.top]);
const colour = d3.scaleLinear().domain([0.1, 0.4])
  .range(["#3541bb", "#a8143e"]).interpolate(d3.interpolateLab);

// panel background
svg.append("rect")
  .attr("x", panel.left).attr("y", panel.top)
  .attr("width", panel.right - panel.left).attr("height", panel.bottom - panel.top)
  .attr("fill", "#e5e5e5");

// grid: minor then major
const grid = svg.append("g");
grid.selectAll(".vmin").data(minorBreaks).join("line")
  .attr("x1", d => x(d)).attr("x2", d => x(d))
  .attr("y1", panel.top).attr("y2", panel.bottom)
  .attr("stroke", "#f2f2f2").attr("stroke-width", 0.8);
grid.selectAll(".hmin").data(minorBreaks).join("line")
  .attr("y1", d => y(d)).attr("y2", d => y(d))
  .attr("x1", panel.left).attr("x2", panel.right)
  .attr("stroke", "#f2f2f2").attr("stroke-width", 0.8);
grid.selectAll(".vmaj").data(xTicks).join("line")
  .attr("x1", d => x(d)).attr("x2", d => x(d))
  .attr("y1", panel.top).attr("y2", panel.bottom)
  .attr("stroke", "#fff").attr("stroke-width", 1.8);
grid.selectAll(".hmaj").data(yTicks).join("line")
  .attr("y1", d => y(d)).attr("y2", d => y(d))
  .attr("x1", panel.left).attr("x2", panel.right)
  .attr("stroke", "#fff").attr("stroke-width", 1.8);

// ── Points ──
svg.append("clipPath").attr("id", "panel-clip").append("rect")
  .attr("x", panel.left).attr("y", panel.top)
  .attr("width", panel.right - panel.left).attr("height", panel.bottom - panel.top);

const allPoints = lowerWedge.map(p => [p[0], p[1], lowerRecombination])
  .concat(neckPoints, upperWedge);
svg.append("g").attr("clip-path", "url(#panel-clip)")
  .selectAll("circle").data(allPoints).join("circle")
  .attr("cx", d => x(d[0])).attr("cy", d => y(d[1]))
  .attr("r", POINT_R)
  .attr("fill", d => colour(d[2]))
  .attr("fill-opacity", POINT_ALPHA);

// ── Axes ──
const axisColour = "#7f7f7f";
const xAxis = svg.append("g")
  .attr("transform", `translate(0,${panel.bottom})`)
  .call(d3.axisBottom(x).tickValues(xTicks).tickSize(6).tickPadding(5).tickFormat(d3.format(".1f")));
const yAxis = svg.append("g")
  .attr("transform", `translate(${panel.left},0)`)
  .call(d3.axisLeft(y).tickValues(yTicks).tickSize(6).tickPadding(5).tickFormat(d3.format(".1f")));
for (const a of [xAxis, yAxis]) {
  a.select(".domain").remove();
  a.selectAll(".tick line").attr("stroke", axisColour).attr("stroke-width", 1.2);
  a.selectAll(".tick text").attr("fill", axisColour)
    .style("font-size", "16px").style("font-family", "Liberation Sans, Arial, sans-serif");
}

svg.append("text")
  .attr("x", (panel.left + panel.right) / 2).attr("y", 815)
  .attr("text-anchor", "middle")
  .style("font-size", "20px").attr("fill", "#000")
  .text("XA Eggs");
svg.append("text")
  .attr("transform", `translate(37,${(panel.top + panel.bottom) / 2}) rotate(-90)`)
  .attr("text-anchor", "middle")
  .style("font-size", "20px").attr("fill", "#000")
  .text("XA Sperm");

// ── Legend ──
const lg = svg.append("g").attr("transform", "translate(697,353)");
lg.append("text")
  .attr("x", 0).attr("y", -8)
  .style("font-size", "16px").style("font-weight", "bold")
  .text("Recombination");
const keyStep = 29.3, keySize = 28;
const keys = lg.selectAll("g.key").data(legendLevels).join("g")
  .attr("transform", (d, i) => `translate(0,${i * keyStep})`);
keys.append("rect")
  .attr("width", keySize).attr("height", keySize)
  .attr("fill", "#f2f2f2").attr("stroke", "#fff").attr("stroke-width", 1);
keys.append("circle")
  .attr("cx", keySize / 2).attr("cy", keySize / 2).attr("r", 3.6)
  .attr("fill", d => colour(d)).attr("fill-opacity", KEY_ALPHA);
keys.append("text")
  .attr("x", 36).attr("y", keySize / 2 + 6)
  .style("font-size", "16px").attr("fill", "#000")
  .text(d => d3.format(".1f")(d));

// ── Slide caption (cut at the page edge, as in the original) ──
svg.selectAll("text.slide").data(slideLines).join("text")
  .attr("class", "slide")
  .attr("x", 709).attr("y", (d, i) => 703 + i * 51)
  .style("font-size", "47px").attr("fill", "#000")
  .text(d => d);
</script>
</body>
</html>
